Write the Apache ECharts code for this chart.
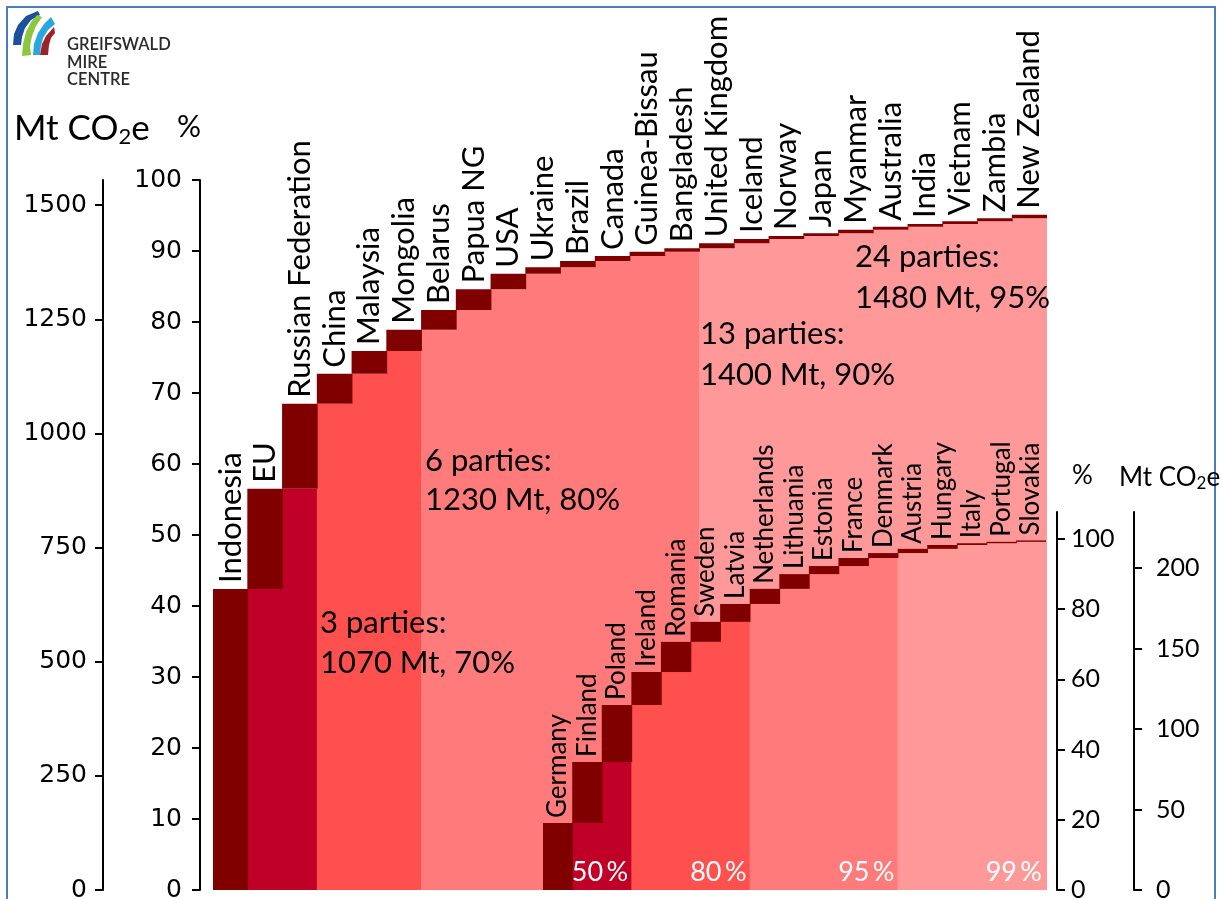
<!DOCTYPE html>
<html><head><meta charset="utf-8">
<script src="https://cdn.jsdelivr.net/npm/echarts@6/dist/echarts.min.js"></script>
<style>html,body{margin:0;padding:0;background:#fff}#c{width:1222px;height:899px}</style>
</head><body><div id="c"></div>
<script>
// ---- data ----
const mainParties = ['Indonesia','EU','Russian Federation','China','Malaysia','Mongolia','Belarus','Papua NG','USA','Ukraine','Brazil','Canada','Guinea-Bissau','Bangladesh','United Kingdom','Iceland','Norway','Japan','Myanmar','Australia','India','Vietnam','Zambia','New Zealand'];
const mainCumPct = [42.4,56.5,68.5,72.7,75.9,78.9,81.7,84.6,86.8,87.7,88.6,89.3,89.9,90.4,91.1,91.7,92.1,92.5,93.0,93.4,93.8,94.2,94.6,95.1];
const mainTotalMt = 1555;            // Mt CO2e at 100 %
const mainMtTicks = [0,250,500,750,1000,1250,1500];
const mainBandStarts = [1,3,6,14];    // first column of each shaded band

const euParties = ['Germany','Finland','Poland','Ireland','Romania','Sweden','Latvia','Netherlands','Lithuania','Estonia','France','Denmark','Austria','Hungary','Italy','Portugal','Slovakia'];
const euCumPct = [19.1,36.5,52.7,62.1,70.7,76.4,81.5,85.8,90.0,92.3,94.6,96.0,97.2,98.3,98.8,99.2,99.6];
const euTotalMt = 218;               // Mt CO2e at 100 %
const euMtTicks = [0,50,100,150,200];
const euPctTicks = [0,20,40,60,80,100];
const euBandStarts = [1,3,7,12];
const euBandEnds = [2,6,11,16];
const euBandLabels = ['50\u2009%','80\u2009%','95\u2009%','99\u2009%'];

const notes = [
  {line1:'3 parties:', line2:'1070 Mt, 70%'},
  {line1:'6 parties:', line2:'1230 Mt, 80%'},
  {line1:'13 parties:', line2:'1400 Mt, 90%'},
  {line1:'24 parties:', line2:'1480 Mt, 95%'}
];

// ---- styling ----
const bandColors = ['#c00026','#ff5050','#ff7b7b','#ff9999'];
const dark = '#800000';
const LABEL_FONT = 'Lato';
const TICK_FONT = '"DejaVu Sans", Verdana, sans-serif';

function bandColor(i, starts){ let c = 'rgba(0,0,0,0)'; starts.forEach((s,k)=>{ if(i>=s) c = bandColors[k]; }); return c; }

const mainBase = mainCumPct.map((v,i)=>({value: i===0?0:mainCumPct[i-1], itemStyle:{color: bandColor(i, mainBandStarts)}}));
const mainShare = mainCumPct.map((v,i)=> +(v - (i===0?0:mainCumPct[i-1])).toFixed(2));
const euBase = euCumPct.map((v,i)=>{
  const d = {value: i===0?0:euCumPct[i-1], itemStyle:{color: bandColor(i, euBandStarts)}};
  const k = euBandEnds.indexOf(i);
  if(k>=0){ d.label = {show:true, formatter: euBandLabels[k], position:'insideBottomRight', distance:4, color:'#fff', fontSize:27, fontFamily:LABEL_FONT}; }
  return d;
});
const euShare = euCumPct.map((v,i)=> +(v - (i===0?0:euCumPct[i-1])).toFixed(2));

const axLine = {show:true, lineStyle:{color:'#000', width:2}};
const axTick = (vals)=>({show:true, length:8, lineStyle:{color:'#000', width:2}, customValues: vals});
const plain = v => String(v);

const chart = echarts.init(document.getElementById('c'), null, {renderer:'canvas'});
const headerRich = {
  a:{fontSize:35, fontFamily:LABEL_FONT, color:'#000'},
  s:{fontSize:22, fontFamily:LABEL_FONT, color:'#000', padding:[17,0,0,0]}
};
const headerRichR = {
  a:{fontSize:26, fontFamily:LABEL_FONT, color:'#000'},
  s:{fontSize:17, fontFamily:LABEL_FONT, color:'#000', padding:[12,0,0,0]}
};

const graphics = [
  {type:'rect', z:100, shape:{x:7,y:7,width:1208,height:910}, style:{fill:'none', stroke:'#4a7ebb', lineWidth:2}},
  // logo
  {type:'polygon', z:100, shape:{points:[[13,45],[14,34],[18,25],[26,16],[38,11],[40,15],[31,20],[25,28],[22,37],[21,45]]}, style:{fill:'#1d4f9f'}},
  {type:'polygon', z:100, shape:{points:[[22,56],[23,44],[26,32],[31,22],[37,15],[42,17],[36,26],[32,36],[30,46],[31,55]]}, style:{fill:'#8cc63e'}},
  {type:'polygon', z:100, shape:{points:[[33,55],[34,44],[38,33],[44,24],[51,17],[55,24],[48,30],[43,38],[41,46],[40,55]]}, style:{fill:'#29a8e0'}},
  {type:'polygon', z:100, shape:{points:[[40,55],[42,44],[46,36],[54,27],[55,33],[51,38],[49,45],[48,55]]}, style:{fill:'#9a2427'}},
  {type:'text', z:100, x:67, y:36, style:{text:'GREIFSWALD\nMIRE\nCENTRE', font:'600 16.5px Lato', fill:'#2b2b2b', lineHeight:17.5}},
  // headers
  {type:'text', z:100, x:14, y:109, style:{text:'{a|Mt CO}{s|2}{a|e}', rich:headerRich}},
  {type:'text', z:100, x:177, y:112, style:{text:'%', font:'30px Lato', fill:'#000'}},
  {type:'text', z:100, x:1072, y:463, style:{text:'%', font:'26px Lato', fill:'#000'}},
  {type:'text', z:100, x:1119, y:463, style:{text:'{a|Mt CO}{s|2}{a|e}', rich:headerRichR}},
  // annotations
  {type:'text', z:100, x:320, y:603, style:{text:notes[0].line1+'\n'+notes[0].line2, font:'31px Lato', fill:'#000', lineHeight:40}},
  {type:'text', z:100, x:425, y:441, style:{text:notes[1].line1+'\n'+notes[1].line2, font:'31px Lato', fill:'#000', lineHeight:39}},
  {type:'text', z:100, x:700, y:313, style:{text:notes[2].line1+'\n'+notes[2].line2, font:'31px Lato', fill:'#000', lineHeight:41}},
  {type:'text', z:100, x:855, y:236, style:{text:notes[3].line1+'\n'+notes[3].line2, font:'31px Lato', fill:'#000', lineHeight:41}}
];

chart.setOption({
  animation:false,
  backgroundColor:'#fff',
  grid:[
    {left:213, right:175, top:180, bottom:9, outerBoundsMode:'none'},
    {left:543, right:176, top:512, bottom:9, outerBoundsMode:'none'}
  ],
  xAxis:[
    {type:'category', gridIndex:0, data:mainParties, show:false},
    {type:'category', gridIndex:1, data:euParties, show:false}
  ],
  yAxis:[
    {type:'value', gridIndex:0, position:'left', offset:13, min:0, max:100, interval:10,
     axisLine:axLine, axisTick:{show:true, length:8, lineStyle:{color:'#000', width:2}}, splitLine:{show:false},
     axisLabel:{color:'#000', fontSize:25, fontFamily:TICK_FONT, margin:18, formatter:plain}},
    {type:'value', gridIndex:0, position:'left', offset:110, min:0, max:mainTotalMt,
     axisLine:axLine, axisTick:axTick(mainMtTicks), splitLine:{show:false},
     axisLabel:{color:'#000', fontSize:25, fontFamily:TICK_FONT, margin:16, customValues:mainMtTicks, formatter:plain}},
    {type:'value', gridIndex:1, position:'right', offset:11, min:0, max:107.7,
     axisLine:axLine, axisTick:axTick(euPctTicks), splitLine:{show:false},
     axisLabel:{color:'#000', fontSize:25, fontFamily:LABEL_FONT, margin:14, customValues:euPctTicks, formatter:plain}},
    {type:'value', gridIndex:1, position:'right', offset:88, min:0, max:107.7*euTotalMt/100,
     axisLine:axLine, axisTick:axTick(euMtTicks), splitLine:{show:false},
     axisLabel:{color:'#000', fontSize:25, fontFamily:LABEL_FONT, margin:22, customValues:euMtTicks, formatter:plain}}
  ],
  series:[
    {type:'bar', name:'mainBase', xAxisIndex:0, yAxisIndex:0, stack:'m', barWidth:35.6, data:mainBase, z:2, silent:true},
    {type:'bar', name:'mainShare', xAxisIndex:0, yAxisIndex:0, stack:'m', barWidth:35.6, data:mainShare, z:2,
     itemStyle:{color:dark},
     label:{show:true, position:'top', rotate:90, align:'left', verticalAlign:'middle', distance:6,
            formatter:p=>p.name, color:'#000', fontSize:31, fontFamily:LABEL_FONT}},
    {type:'bar', name:'euBase', xAxisIndex:1, yAxisIndex:2, stack:'e', barWidth:30.4, data:euBase, z:3, silent:true},
    {type:'bar', name:'euShare', xAxisIndex:1, yAxisIndex:2, stack:'e', barWidth:30.4, data:euShare, z:3,
     itemStyle:{color:dark},
     label:{show:true, position:'top', rotate:90, align:'left', verticalAlign:'middle', distance:5,
            formatter:p=>p.name, color:'#000', fontSize:26, fontFamily:LABEL_FONT}}
  ],
  graphic:graphics
});
</script></body></html>
